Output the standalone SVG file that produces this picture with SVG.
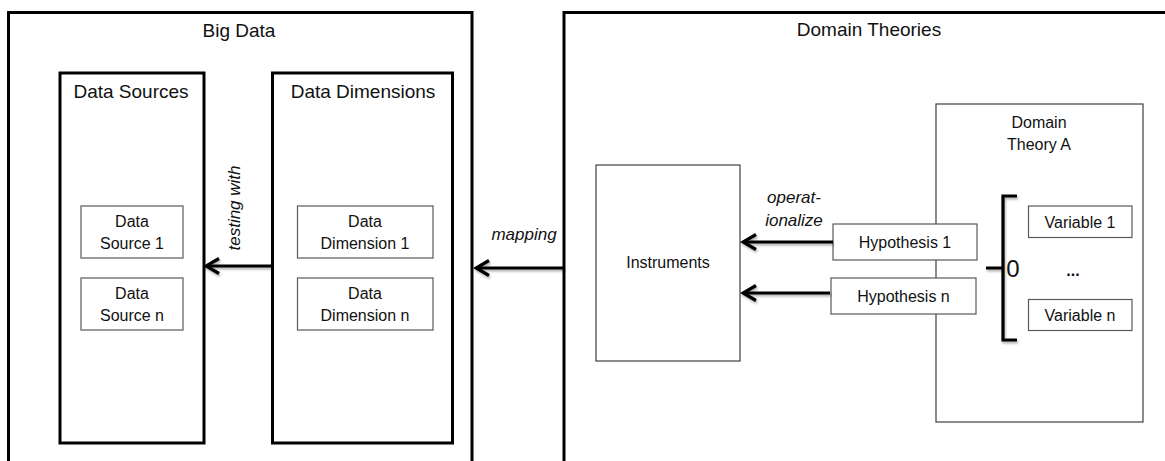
<svg xmlns="http://www.w3.org/2000/svg" width="1165" height="461" viewBox="0 0 1165 461">
  <style>
    .frame { fill: #fff; stroke: #000; stroke-width: 3; }
    .col { fill: #fff; stroke: #000; stroke-width: 3; }
    .box { fill: #fff; stroke: #595959; stroke-width: 1.2; }
    .panel { fill: #fff; stroke: #404040; stroke-width: 1.2; }
    text { font-family: "Liberation Sans", Arial, sans-serif; fill: #111; text-anchor: middle; }
    .h { font-size: 19px; }
    .t { font-size: 16px; }
    .lbl { font-size: 17px; font-style: italic; }
    .conn { stroke: #000; stroke-width: 3.2; fill: none; }
  </style>
  <defs>
    <marker id="chev" markerUnits="userSpaceOnUse" markerWidth="18" markerHeight="20" viewBox="0 0 18 20" refX="15" refY="10" orient="auto">
      <path d="M2,2.5 L15,10 L2,17.5" fill="none" stroke="#000" stroke-width="3.2" stroke-linejoin="miter"/>
    </marker>
    <filter id="sh" x="-10%" y="-50%" width="130%" height="250%">
      <feDropShadow dx="1" dy="2" stdDeviation="1.3" flood-color="#000" flood-opacity="0.3"/>
    </filter>
  </defs>

  <rect width="1165" height="461" fill="#fff"/>

  <!-- Big Data frame -->
  <g id="big-data">
    <rect class="frame" x="8.5" y="12.5" width="463.5" height="470"/>
    <text class="h" x="239" y="37">Big Data</text>
  </g>

  <!-- Domain Theories frame -->
  <g id="domain-theories">
    <rect class="frame" x="564" y="12.5" width="640" height="470"/>
    <text class="h" x="869" y="36">Domain Theories</text>
  </g>

  <g id="data-sources">
    <rect class="col" x="60" y="73" width="144" height="370"/>
    <text class="h" x="131" y="98">Data Sources</text>
  </g>
  <g id="data-source-1">
    <rect class="box" x="81" y="206" width="102" height="52"/>
    <text class="t" x="132" y="227">Data</text>
    <text class="t" x="132" y="249">Source 1</text>
  </g>
  <g id="data-source-n">
    <rect class="box" x="81" y="278" width="102" height="52"/>
    <text class="t" x="132" y="299">Data</text>
    <text class="t" x="132" y="321">Source n</text>
  </g>

  <g id="data-dimensions">
    <rect class="col" x="272.5" y="73" width="180" height="370"/>
    <text class="h" x="363" y="98">Data Dimensions</text>
  </g>
  <g id="data-dimension-1">
    <rect class="box" x="297.5" y="206" width="135.5" height="52"/>
    <text class="t" x="365" y="227">Data</text>
    <text class="t" x="365" y="249">Dimension 1</text>
  </g>
  <g id="data-dimension-n">
    <rect class="box" x="297.5" y="278" width="135.5" height="52"/>
    <text class="t" x="365" y="299">Data</text>
    <text class="t" x="365" y="321">Dimension n</text>
  </g>

  <g id="instruments">
    <rect class="panel" x="596" y="165" width="144" height="196"/>
    <text class="t" x="668" y="268">Instruments</text>
  </g>

  <g id="domain-theory-a">
    <rect class="panel" x="936" y="104" width="207" height="318"/>
    <text class="t" x="1039" y="128">Domain</text>
    <text class="t" x="1039" y="150">Theory A</text>
  </g>

  <g id="hypothesis-1">
    <rect class="box" x="833" y="224" width="144" height="36"/>
    <text class="t" x="905" y="248">Hypothesis 1</text>
  </g>
  <g id="hypothesis-n">
    <rect class="box" x="831" y="278" width="145" height="36"/>
    <text class="t" x="903.5" y="302">Hypothesis n</text>
  </g>

  <g id="variable-1">
    <rect class="box" x="1028.5" y="206" width="103.5" height="31.5"/>
    <text class="t" x="1080" y="228">Variable 1</text>
  </g>
  <g id="variable-ellipsis">
    <text class="t" x="1073" y="276" style="font-weight:bold">...</text>
  </g>
  <g id="variable-n">
    <rect class="box" x="1028.5" y="299.5" width="103.5" height="31"/>
    <text class="t" x="1080" y="321">Variable n</text>
  </g>

  <!-- grouping brace over the variables -->
  <g id="variable-brace">
    <path d="M1017,196 L1003,196 L1003,340 L1017,340 M986,268 L1003,268" fill="none" stroke="#000" stroke-width="3.2" filter="url(#sh)"/>
    <text x="1013" y="277" style="font-size:24px">0</text>
  </g>

  <!-- connectors -->
  <g id="connectors" filter="url(#sh)">
    <line class="conn" x1="272" y1="266" x2="206" y2="266" marker-end="url(#chev)"/>
    <line class="conn" x1="564" y1="268" x2="476" y2="268" marker-end="url(#chev)"/>
    <line class="conn" x1="833" y1="242" x2="743" y2="242" marker-end="url(#chev)"/>
    <line class="conn" x1="830" y1="293" x2="743" y2="293" marker-end="url(#chev)"/>
  </g>

  <!-- connector labels -->
  <g id="connector-labels">
    <text class="lbl" transform="translate(240,208) rotate(-90)">testing with</text>
    <text class="lbl" x="524" y="240">mapping</text>
    <text class="lbl" x="794" y="203">operat-</text>
    <text class="lbl" x="794" y="226">ionalize</text>
  </g>
</svg>
